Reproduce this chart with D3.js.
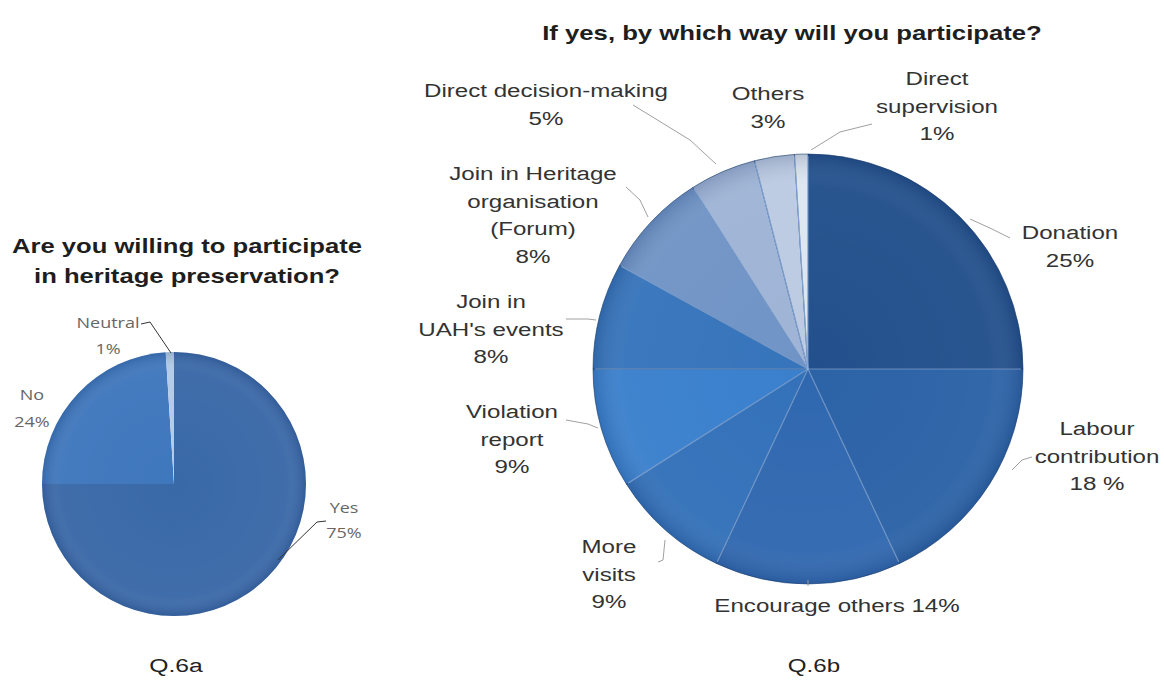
<!DOCTYPE html>
<html><head><meta charset="utf-8">
<script src="https://cdn.jsdelivr.net/npm/d3@7"></script>
<style>body{margin:0;background:#fff}svg{display:block}</style>
</head><body>
<script>
// Q.6a data
const catsA = ["Yes", "No", "Neutral"];
const valsA = [75, 24, 1];
const colorsA = ["#3a69a8", "#3f77bd", "#b3cbe8"];
const labelsA = [["Yes", "75%"], ["No", "24%"], ["Neutral", "1%"]];
const titleA = ["Are you willing to participate", "in heritage preservation?"];
// Q.6b data
const catsB = ["Donation", "Labour contribution", "Encourage others", "More visits", "Violation report",
  "Join in UAH's events", "Join in Heritage organisation (Forum)", "Direct decision-making", "Others", "Direct supervision"];
const valsB = [25, 18, 14, 9, 9, 8, 8, 5, 3, 1];
const colorsB = ["#23508c", "#2c63a7", "#3068b0", "#3371b9", "#3a80cd", "#3674bb", "#7094c6", "#9fb4d6", "#bccbe2", "#dde5f0"];
const labelsB = [
  ["Donation", "25%"], ["Labour", "contribution", "18 %"], ["Encourage others 14%"], ["More", "visits", "9%"],
  ["Violation", "report", "9%"], ["Join in", "UAH's events", "8%"], ["Join in Heritage", "organisation", "(Forum)", "8%"],
  ["Direct decision-making", "5%"], ["Others", "3%"], ["Direct", "supervision", "1%"]
];
const titleB = "If yes, by which way will you participate?";

const W = 1164, H = 680;
const svg = d3.select("body").append("svg").attr("width", W).attr("height", H);
const defs = svg.append("defs");
const rg = defs.append("radialGradient").attr("id", "shade");
rg.append("stop").attr("offset", "0%").attr("stop-color", "#fff").attr("stop-opacity", 0.0);
rg.append("stop").attr("offset", "85%").attr("stop-color", "#fff").attr("stop-opacity", 0.03);
rg.append("stop").attr("offset", "100%").attr("stop-color", "#0a2350").attr("stop-opacity", 0.18);

const pie = d3.pie().sort(null).startAngle(0).endAngle(2 * Math.PI);
const ARIAL = "Liberation Sans, Arial, sans-serif";

function txt(g, x, y, s, size, sx, opt) {
  opt = opt || {};
  return g.append("text")
    .attr("transform", `translate(${x},${y}) scale(${sx},1)`)
    .attr("text-anchor", "middle")
    .attr("font-family", opt.family || ARIAL)
    .attr("font-size", size)
    .attr("font-weight", opt.bold ? "bold" : "normal")
    .attr("fill", opt.fill || "#222")
    .text(s);
}

// ---------- Q.6a ----------
const cxA = 174, cyA = 484, rA = 132;
const gA = svg.append("g").attr("transform", `translate(${cxA},${cyA})`);
const arcA = d3.arc().innerRadius(0).outerRadius(rA);
gA.selectAll("path.s").data(pie(valsA)).join("path").attr("class", "s")
  .attr("d", arcA).attr("fill", (d, i) => colorsA[i]).attr("stroke", "none");
gA.append("circle").attr("r", rA).attr("fill", "url(#shade)");

const gAT = svg.append("g");
titleA.forEach((t, i) => txt(gAT, 187, 253 + i * 30, t, 20.5, 1.25, { bold: true, fill: "#1e1e1e" }));

const posA = [[344, 513, 538], [32, 400, 427], [108, 328, 354]];
const gAL = svg.append("g");
labelsA.forEach((l, i) => {
  l.forEach((t, j) => txt(gAL, posA[i][0], posA[i][1 + j], t, 15, 1.2, { family: "Open Sans, Liberation Sans, sans-serif", fill: "#666" }));
});
const lineA = [[[326, 521], [317, 522], [278, 560]], [[141, 324], [150, 322], [171, 353]]];
svg.append("g").selectAll("path").data(lineA).join("path")
  .attr("d", d => d3.line()(d)).attr("fill", "none").attr("stroke", "#333").attr("stroke-width", 1);

txt(svg, 176, 672, "Q.6a", 19, 1.3, { fill: "#222" });

// ---------- Q.6b ----------
const cxB = 808, cyB = 369, rB = 215;
const gB = svg.append("g").attr("transform", `translate(${cxB},${cyB})`);
const arcB = d3.arc().innerRadius(0).outerRadius(rB);
gB.selectAll("path.s").data(pie(valsB)).join("path").attr("class", "s")
  .attr("d", arcB).attr("fill", (d, i) => colorsB[i])
  .attr("stroke", "#1d3f72").attr("stroke-width", 1).attr("stroke-opacity", 0.6);
gB.append("circle").attr("r", rB).attr("fill", "url(#shade)");
gB.selectAll("line.h").data(pie(valsB)).join("line").attr("class", "h")
  .attr("x1", 0).attr("y1", 0)
  .attr("x2", d => Math.sin(d.startAngle) * (rB - 2)).attr("y2", d => -Math.cos(d.startAngle) * (rB - 2))
  .attr("stroke", "#8fb4e4").attr("stroke-width", 1.2).attr("stroke-opacity", 0.7);

txt(svg, 792, 40, titleB, 20, 1.285, { bold: true, fill: "#1e1e1e" });

const posB = [[1070, 239], [1097, 435], [837, 612], [609, 553], [512, 418], [491, 308], [533, 180], [546, 97], [768, 100], [937, 85]];
const gBL = svg.append("g");
labelsB.forEach((l, i) => {
  l.forEach((t, j) => txt(gBL, posB[i][0], posB[i][1] + j * 27.5, t, 19, 1.27, { fill: "#333" }));
});
const lineB = [
  [[970, 219], [992, 229], [1010, 238]],
  [[1012, 470], [1022, 460], [1032, 457]],
  [[808, 580], [808, 586]],
  [[658, 562], [663, 560], [665, 540]],
  [[566, 420], [588, 424], [598, 428]],
  [[566, 319], [588, 319], [596, 320]],
  [[626, 187], [640, 200], [648, 217]],
  [[633, 105], [690, 140], [716, 164]],
  [[872, 124], [840, 132], [811, 150]]
];
svg.append("g").selectAll("path").data(lineB).join("path")
  .attr("d", d => d3.line()(d)).attr("fill", "none").attr("stroke", "#a0a0a0").attr("stroke-width", 1);

txt(svg, 814, 672, "Q.6b", 19, 1.27, { fill: "#222" });
</script>
</body></html>
